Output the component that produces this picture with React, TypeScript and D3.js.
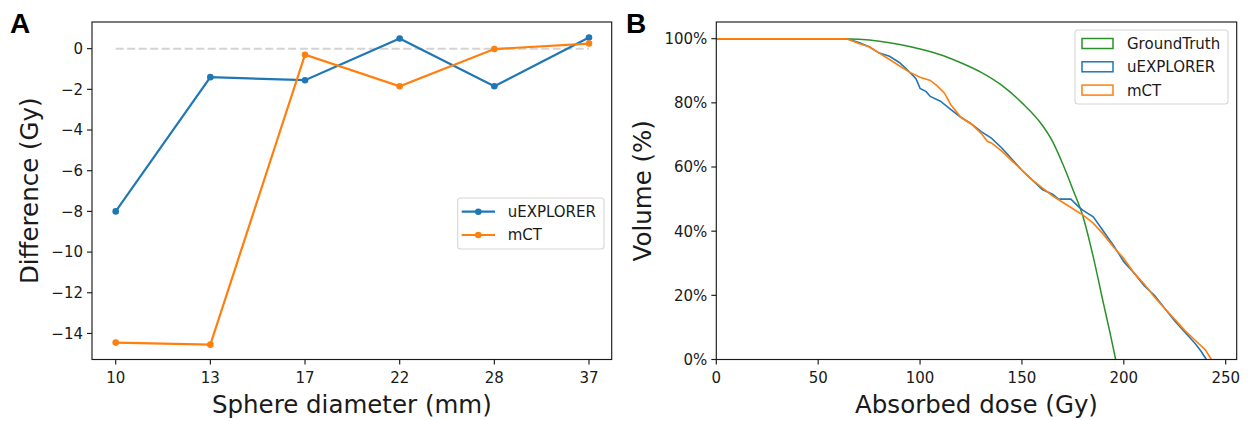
import React from "react";
import * as d3 from "d3";

// panel A: dose difference per sphere
const diameters = ["10", "13", "17", "22", "28", "37"];
const diffUExplorer = [-8.0, -1.4, -1.55, 0.5, -1.85, 0.55];
const diffMCT = [-14.45, -14.55, -0.3, -1.85, -0.02, 0.25];
const diffTicks = [0, -2, -4, -6, -8, -10, -12, -14];

// panel B: cumulative DVH (dose Gy, volume %)
const gtDose = [0, 63, 70, 80, 90, 100, 110, 120, 130, 140, 150, 160, 165, 170, 175, 180, 185, 190, 193, 196];
const gtVol = [100, 100, 99.8, 99.2, 98.2, 96.8, 95, 92.5, 89.5, 85.5, 80, 73, 68, 61, 53, 44.5, 32, 17.5, 9, 0];

const uxDose = [0, 64, 70, 75, 80, 85, 90, 95, 98, 100, 103, 105, 110, 115, 120, 125, 130, 135, 140, 145, 150, 155, 160, 165, 168, 174, 178, 180, 185, 190, 195, 200, 205, 210, 215, 220, 225, 230, 235, 238, 240.5];
const uxVol = [100, 100, 98.8, 97.5, 95.5, 94.5, 92.5, 89.5, 87.5, 84.5, 83.5, 82, 80.5, 78, 75.5, 73.5, 71, 69, 66, 62.5, 59, 56, 53, 51.5, 50, 50, 47.5, 46.5, 44.5, 40, 35.5, 30.5, 27, 23, 20, 16, 12, 8.5, 5, 2.5, 0];

const ctDose = [0, 64, 70, 75, 80, 85, 90, 95, 100, 105, 108, 112, 115, 120, 125, 130, 133, 135, 140, 145, 150, 155, 160, 165, 170, 175, 180, 185, 190, 195, 200, 205, 210, 215, 220, 225, 230, 235, 240, 243];
const ctVol = [100, 100, 98.5, 97.5, 95.5, 93.5, 91.5, 89.5, 88, 87, 85.5, 83, 79.5, 75.5, 73.5, 70.5, 68, 67.5, 65, 62, 59, 56, 53.5, 51, 49, 47, 45, 42.5, 39, 35, 31.5, 27, 23.5, 19.5, 16, 12.5, 9, 6, 3, 0];

const doseTicks = [0, 50, 100, 150, 200, 250];
const volTicks = [0, 20, 40, 60, 80, 100];

const BLUE = "#1f77b4";
const ORANGE = "#ff7f0e";
const GREEN = "#2a912a";
const INK = "#1a1a1a";
const FONT = "DejaVu Sans, sans-serif";

const top = 22, bottom = 359.5;
const TICK_FS = 15;
const LABEL_FS = 24.5;

export default function App() {
  // ---- panel A scales
  const xA = d3.scalePoint<string>().domain(diameters).range([115.7, 589]);
  const yA = d3.scaleLinear().domain([-15.28, 1.31]).range([bottom, top]);
  const lineA = d3.line<[string, number]>().x(d => xA(d[0])!).y(d => yA(d[1]));
  const ptsUx = diameters.map((d, i) => [d, diffUExplorer[i]] as [string, number]);
  const ptsCt = diameters.map((d, i) => [d, diffMCT[i]] as [string, number]);

  // ---- panel B scales
  const xB = d3.scaleLinear().domain([0, 255.4]).range([716.3, 1236.7]);
  const yB = d3.scaleLinear().domain([0, 105.2]).range([bottom, top]);
  const lineB = d3.line<[number, number]>().x(d => xB(d[0])).y(d => yB(d[1]));
  const smoothB = d3.line<[number, number]>().x(d => xB(d[0])).y(d => yB(d[1])).curve(d3.curveMonotoneX);
  const zip = (a: number[], b: number[]) => a.map((v, i) => [v, b[i]] as [number, number]);

  const aL = 92, aR = 611.7, bL = 716.3, bR = 1236.7;
  const fmtMinus = (v: number) => (v < 0 ? "\u2212" + Math.abs(v) : String(v));

  return (
    <svg width={1251} height={421} style={{ position: "absolute", left: 0, top: 0, background: "#fff" }} fontFamily={FONT}>
      <rect width={1251} height={421} fill="#fff" />

      {/* ===== Panel A ===== */}
      <text x={10} y={33} fontSize={28} fontWeight="bold" fontFamily="Liberation Sans, Arial, sans-serif" fill="#000">A</text>

      <line x1={xA("10")} x2={xA("37")} y1={yA(0)} y2={yA(0)} stroke="#d3d3d3" strokeWidth={2} strokeDasharray="8,3.5" />

      <path d={lineA(ptsUx)!} fill="none" stroke={BLUE} strokeWidth={2.2} />
      {ptsUx.map((p, i) => <circle key={"ua" + i} cx={xA(p[0])} cy={yA(p[1])} r={3.3} fill={BLUE} />)}
      <path d={lineA(ptsCt)!} fill="none" stroke={ORANGE} strokeWidth={2.2} />
      {ptsCt.map((p, i) => <circle key={"ca" + i} cx={xA(p[0])} cy={yA(p[1])} r={3.3} fill={ORANGE} />)}

      <rect x={aL} y={top} width={aR - aL} height={bottom - top} fill="none" stroke={INK} strokeWidth={1.15} />

      {diffTicks.map(t => (
        <g key={"ya" + t}>
          <line x1={aL - 5} x2={aL} y1={yA(t)} y2={yA(t)} stroke={INK} strokeWidth={1.15} />
          <text x={aL - 9} y={yA(t)} dy="0.36em" textAnchor="end" fontSize={TICK_FS} fill={INK}>{fmtMinus(t)}</text>
        </g>
      ))}
      {diameters.map(d => (
        <g key={"xa" + d}>
          <line x1={xA(d)} x2={xA(d)} y1={bottom} y2={bottom + 5} stroke={INK} strokeWidth={1.15} />
          <text x={xA(d)} y={383} textAnchor="middle" fontSize={TICK_FS} fill={INK}>{d}</text>
        </g>
      ))}
      <text x={(aL + aR) / 2} y={413} textAnchor="middle" fontSize={LABEL_FS} fill={INK}>Sphere diameter (mm)</text>
      <text transform={`translate(38,${(top + bottom) / 2}) rotate(-90)`} textAnchor="middle" fontSize={LABEL_FS} fill={INK}>Difference (Gy)</text>

      {/* legend A */}
      <rect x={457.7} y={198} width={146.3} height={51} rx={3} fill="#fff" fillOpacity={0.8} stroke="#d6d6d6" strokeWidth={1.1} />
      {[["uEXPLORER", BLUE], ["mCT", ORANGE]].map(([name, c], i) => (
        <g key={"la" + name}>
          <line x1={461.7} x2={495} y1={211.7 + i * 23.3} y2={211.7 + i * 23.3} stroke={c} strokeWidth={2.2} />
          <circle cx={478.3} cy={211.7 + i * 23.3} r={3.3} fill={c} />
          <text x={507.7} y={211.7 + i * 23.3} dy="0.36em" fontSize={TICK_FS} fill={INK}>{name}</text>
        </g>
      ))}

      {/* ===== Panel B ===== */}
      <text x={626} y={33} fontSize={28} fontWeight="bold" fontFamily="Liberation Sans, Arial, sans-serif" fill="#000">B</text>

      <path d={smoothB(zip(gtDose, gtVol))!} fill="none" stroke={GREEN} strokeWidth={1.5} />
      <path d={lineB(zip(uxDose, uxVol))!} fill="none" stroke={BLUE} strokeWidth={1.6} />
      <path d={lineB(zip(ctDose, ctVol))!} fill="none" stroke={ORANGE} strokeWidth={1.6} />

      <rect x={bL} y={top} width={bR - bL} height={bottom - top} fill="none" stroke={INK} strokeWidth={1.15} />

      {volTicks.map(t => (
        <g key={"yb" + t}>
          <line x1={bL - 5} x2={bL} y1={yB(t)} y2={yB(t)} stroke={INK} strokeWidth={1.15} />
          <text x={bL - 9} y={yB(t)} dy="0.36em" textAnchor="end" fontSize={TICK_FS} fill={INK}>{t + "%"}</text>
        </g>
      ))}
      {doseTicks.map(t => (
        <g key={"xb" + t}>
          <line x1={xB(t)} x2={xB(t)} y1={bottom} y2={bottom + 5} stroke={INK} strokeWidth={1.15} />
          <text x={xB(t)} y={383} textAnchor="middle" fontSize={TICK_FS} fill={INK}>{t}</text>
        </g>
      ))}
      <text x={(bL + bR) / 2} y={413} textAnchor="middle" fontSize={LABEL_FS} fill={INK}>Absorbed dose (Gy)</text>
      <text transform={`translate(651,${(top + bottom) / 2}) rotate(-90)`} textAnchor="middle" fontSize={LABEL_FS} fill={INK}>Volume (%)</text>

      {/* legend B */}
      <rect x={1075} y={30} width={153} height={74} rx={3} fill="#fff" fillOpacity={0.8} stroke="#d6d6d6" strokeWidth={1.1} />
      {[["GroundTruth", GREEN], ["uEXPLORER", BLUE], ["mCT", ORANGE]].map(([name, c], i) => (
        <g key={"lb" + name}>
          <rect x={1082} y={43.5 + i * 23.3 - 5} width={31} height={10} fill="none" stroke={c} strokeWidth={1.5} />
          <text x={1127} y={43.5 + i * 23.3} dy="0.36em" fontSize={TICK_FS} fill={INK}>{name}</text>
        </g>
      ))}
    </svg>
  );
}
